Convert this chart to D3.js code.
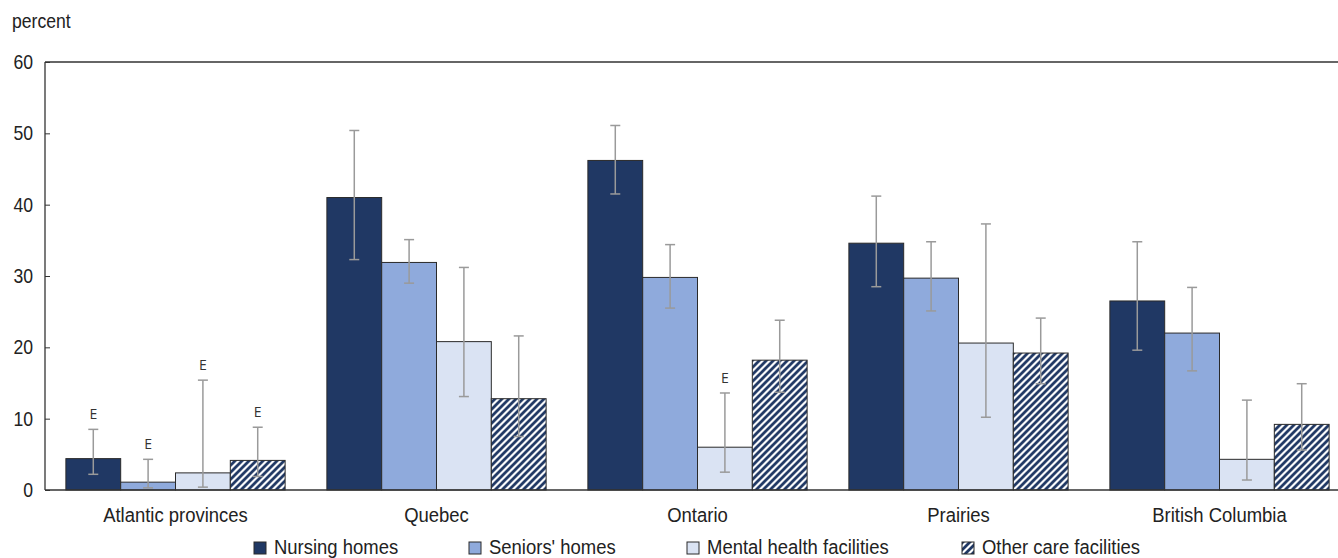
<!DOCTYPE html>
<html>
<head>
<meta charset="utf-8">
<script src="https://cdn.jsdelivr.net/npm/d3@7"></script>
<style>
  body { margin: 0; background: #fff; }
  svg { display: block; font-family: "Liberation Sans", Arial, sans-serif; }
</style>
</head>
<body>
<script>
// data
const regions = ["Atlantic provinces", "Quebec", "Ontario", "Prairies", "British Columbia"];
const seriesNames = ["Nursing homes", "Seniors' homes", "Mental health facilities", "Other care facilities"];
const nursing = [4.4, 41.0, 46.2, 34.6, 26.5];
const seniors = [1.1, 31.9, 29.8, 29.7, 22.0];
const mental = [2.4, 20.8, 6.0, 20.6, 4.3];
const other = [4.15, 12.8, 18.2, 19.2, 9.2];
const nursingLow = [2.2, 32.3, 41.5, 28.5, 19.6];
const nursingHigh = [8.5, 50.4, 51.1, 41.2, 34.8];
const seniorsLow = [0.3, 29.0, 25.5, 25.1, 16.7];
const seniorsHigh = [4.3, 35.1, 34.4, 34.8, 28.4];
const mentalLow = [0.4, 13.1, 2.5, 10.2, 1.4];
const mentalHigh = [15.4, 31.2, 13.6, 37.3, 12.6];
const otherLow = [1.9, 7.5, 13.7, 14.9, 5.6];
const otherHigh = [8.8, 21.6, 23.8, 24.1, 14.9];
// "E" = use with caution
const nursingE = [true, false, false, false, false];
const seniorsE = [true, false, false, false, false];
const mentalE = [true, false, true, false, false];
const otherE = [true, false, false, false, false];
const yTicks = [0, 10, 20, 30, 40, 50, 60];

const series = [
  { name: seriesNames[0], vals: nursing, lo: nursingLow, hi: nursingHigh, e: nursingE, fill: "#203864" },
  { name: seriesNames[1], vals: seniors, lo: seniorsLow, hi: seniorsHigh, e: seniorsE, fill: "#8faadc" },
  { name: seriesNames[2], vals: mental, lo: mentalLow, hi: mentalHigh, e: mentalE, fill: "#dae3f3" },
  { name: seriesNames[3], vals: other, lo: otherLow, hi: otherHigh, e: otherE, fill: "url(#hatch)" }
];

const W = 1338, H = 558;
const mLeft = 45, mRight = 1350, mTop = 62, mBottom = 490;
const FS = 21, SX = 0.88; // condensed look

const svg = d3.select("body").append("svg")
  .attr("width", W)
  .attr("height", H);

// text helper: squeeze horizontally
function ctext(g, x, y, str, anchor, size) {
  return g.append("text")
    .attr("transform", `translate(${x},${y}) scale(${SX},1)`)
    .attr("text-anchor", anchor || "start")
    .attr("font-size", size || FS)
    .attr("fill", "#222")
    .text(str);
}

// hatch pattern
const pat = svg.append("defs").append("pattern")
  .attr("id", "hatch")
  .attr("patternUnits", "userSpaceOnUse")
  .attr("width", 7)
  .attr("height", 7);
pat.append("rect").attr("width", 7).attr("height", 7).attr("fill", "#fff");
pat.append("path")
  .attr("d", "M-1,1 l2,-2 M0,7 l7,-7 M6,8 l2,-2")
  .attr("stroke", "#203864")
  .attr("stroke-width", 2.8);

const x0 = d3.scaleBand().domain(regions).range([mLeft, mRight]).paddingInner(0.16).paddingOuter(0.08);
const x1 = d3.scaleBand().domain(seriesNames).range([0, x0.bandwidth()]).padding(0);
const y = d3.scaleLinear().domain([0, 60]).range([mBottom, mTop]);

// axis label
ctext(svg, 12, 28, "percent", "start", 20);

// y axis with inward ticks
const yAxis = svg.append("g")
  .attr("transform", `translate(${mLeft},0)`)
  .call(d3.axisLeft(y).tickValues(yTicks).tickSize(-5).tickFormat(""));
yAxis.select(".domain").remove();
yAxis.selectAll("line").attr("stroke", "#333");
yTicks.forEach(t => ctext(svg, 33, y(t) + 7, String(t), "end", 20));

// groups
const groups = svg.append("g").selectAll("g")
  .data(regions)
  .join("g")
  .attr("transform", d => `translate(${x0(d)},0)`);

series.forEach(s => {
  groups.append("rect")
    .attr("x", x1(s.name))
    .attr("y", (d, i) => y(s.vals[i]))
    .attr("width", x1.bandwidth())
    .attr("height", (d, i) => y(0) - y(s.vals[i]))
    .attr("fill", s.fill)
    .attr("stroke", "#2a2a2a")
    .attr("stroke-width", 1);
});

// error bars
series.forEach(s => {
  const cx = x1(s.name) + x1.bandwidth() / 2;
  const eb = groups.append("g").attr("stroke", "#9a9a9a").attr("stroke-width", 1.5);
  eb.append("line")
    .attr("x1", cx).attr("x2", cx)
    .attr("y1", (d, i) => y(s.lo[i]))
    .attr("y2", (d, i) => y(s.hi[i]));
  eb.append("line")
    .attr("x1", cx - 5).attr("x2", cx + 5)
    .attr("y1", (d, i) => y(s.lo[i]))
    .attr("y2", (d, i) => y(s.lo[i]));
  eb.append("line")
    .attr("x1", cx - 5).attr("x2", cx + 5)
    .attr("y1", (d, i) => y(s.hi[i]))
    .attr("y2", (d, i) => y(s.hi[i]));
  groups.filter((d, i) => s.e[i])
    .append("text")
    .attr("x", cx)
    .attr("y", d => y(s.hi[regions.indexOf(d)]) - 10)
    .attr("text-anchor", "middle")
    .attr("font-family", "\"Open Sans\", \"DejaVu Sans\", sans-serif")
    .attr("font-size", 14)
    .attr("fill", "#333")
    .text("E");
});

// frame
const frame = svg.append("g").attr("stroke", "#333").attr("stroke-width", 1.3).attr("fill", "none");
frame.append("line").attr("x1", mLeft).attr("x2", W).attr("y1", mTop).attr("y2", mTop);
frame.append("line").attr("x1", mLeft).attr("x2", mLeft).attr("y1", mTop).attr("y2", mBottom);
frame.append("line").attr("x1", mLeft).attr("x2", W).attr("y1", mBottom).attr("y2", mBottom);

// category labels
const cat = svg.append("g");
regions.forEach(r => ctext(cat, x0(r) + x0.bandwidth() / 2, 522, r, "middle"));

// legend
const legendX = [254, 469, 687, 962];
const leg = svg.append("g");
series.forEach((s, i) => {
  leg.append("rect")
    .attr("x", legendX[i]).attr("y", 542)
    .attr("width", 12).attr("height", 12)
    .attr("fill", s.fill)
    .attr("stroke", "#2a2a2a").attr("stroke-width", 1);
  ctext(leg, legendX[i] + 20, 554, s.name);
});
</script>
</body>
</html>
